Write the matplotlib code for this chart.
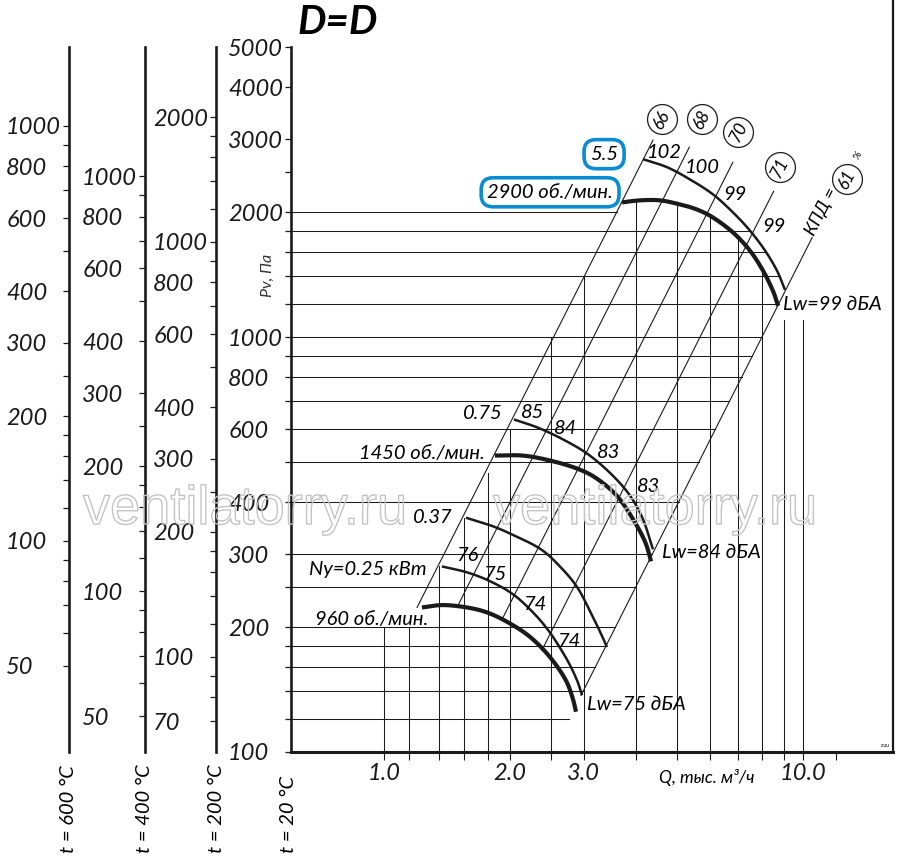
import numpy as np
import matplotlib
matplotlib.use('Agg')
import matplotlib.pyplot as plt
from matplotlib.ticker import FixedLocator, NullLocator
import matplotlib.patheffects as pe

plt.rcParams['font.family'] = ['Lato', 'DejaVu Sans']
plt.rcParams['font.style'] = 'italic'

# fan curves, Q in thousand m3/h, P in Pa
q_2900 = [3.70, 4.08, 4.56, 5.09, 5.58, 6.10, 6.81, 7.47, 8.03, 8.48, 8.72]
p_2900 = [2111, 2135, 2135, 2087, 2030, 1941, 1786, 1616, 1445, 1292, 1189]
q_55 = [4.15, 4.74, 5.37, 6.10, 6.81, 7.47, 8.12, 8.67, 9.06]
p_55 = [2683, 2566, 2399, 2207, 1996, 1806, 1616, 1445, 1299]
q_1450 = [1.84, 2.146, 2.49, 2.89, 3.22, 3.60, 3.93, 4.20, 4.34]
p_1450 = [518, 518, 504, 482, 456, 414, 364, 321, 288]
q_075 = [2.043, 2.357, 2.734, 3.10, 3.52, 3.87, 4.15, 4.385]
p_075 = [633, 602, 560, 518, 463, 414, 364, 308]
q_960 = [1.232, 1.383, 1.578, 1.761, 1.966, 2.194, 2.396, 2.587, 2.734, 2.826, 2.872]
p_960 = [223, 226, 223, 217, 206, 192, 177, 161, 147, 134, 125]
q_025 = [1.375, 1.578, 1.791, 2.032, 2.268, 2.49, 2.734, 2.888, 2.969]
p_025 = [280, 271, 258, 240, 217, 194, 167, 149, 137]
q_037 = [1.569, 1.791, 2.0, 2.357, 2.63, 2.888, 3.10, 3.278, 3.406]
p_037 = [367, 352, 336, 309, 280, 250, 219, 195, 179]

# efficiency lines P = k*Q^2
eff_vals = ['66', '68', '70', '71', '61']
eff_k = [155, 100, 57, 31, 15.7]
eff_p_low = [223, 227, 208, 176, 137]
eff_p_high = [2983, 2868, 2637, 2245, 1737]
eff_lab_q = [4.61, 5.74, 7.0, 8.81, 12.74]
eff_lab_p = [3353, 3353, 3119, 2566, 2399]

# sound power values along the curves
lw_text = ['102', '100', '99', '99', '85', '84', '83', '83', '76', '75', '74', '74']
lw_q = [4.68, 5.74, 6.88, 8.53, 2.268, 2.719, 3.444, 4.29, 1.578, 1.84, 2.293, 2.764]
lw_p = [2790, 2566, 2207, 1846, 658, 602, 527, 436, 297, 268, 227, 185]

# curve names (right aligned) and end labels (left aligned)
name_text = ['2900 об./мин.', '5.5', '1450 об./мин.', '0.75', '0.37', 'Ny=0.25 кВт', '960 об./мин.']
name_q = [3.52, 3.62, 1.742, 1.923, 1.461, 1.266, 1.274]
name_p = [2233, 2759, 524, 655, 367, 276, 209]
end_text = ['Lw=99 дБА', 'Lw=84 дБА', 'Lw=75 дБА']
end_q = [8.95, 4.61, 3.05]
end_p = [1196, 302, 130]

# grid
grid_q = [1.0, 1.15, 1.35, 1.55, 1.77, 2.0, 2.5, 3.0, 4.0, 5.0, 6.0, 7.0, 8.0, 9.0, 10.0]
grid_q_top = [200, 200, 280, 366, 470, 600, 1000, 1400, None, None, None, None, None, 1100, 1100]
grid_p = [120, 140, 160, 180, 200, 250, 300, 400, 500, 600, 700, 800, 900, 1000,
          1200, 1400, 1600, 1800, 2000]
x_ticks = grid_q + [12.0]
x_labels = {1.0: '1.0', 2.0: '2.0', 3.0: '3.0', 10.0: '10.0'}

# pressure scales
main_ticks = [100, 120, 140, 160, 180, 200, 250, 300, 400, 500, 600, 700, 800, 900, 1000,
              1200, 1400, 1600, 1800, 2000, 2500, 3000, 4000, 5000]
main_labels = [100, 200, 300, 400, 600, 800, 1000, 2000, 3000, 4000, 5000]
temp_names = ['t = 600 °C', 't = 400 °C', 't = 200 °C']
temp_factor = [0.31, 0.41, 0.59]
temp_ticks = [[50, 60, 70, 80, 90, 100, 120, 140, 160, 180, 200, 250, 300, 400, 500, 600, 700, 800, 900, 1000],
              [50, 60, 70, 80, 90, 100, 120, 140, 160, 180, 200, 250, 300, 400, 500, 600, 700, 800, 900, 1000],
              [70, 80, 90, 100, 120, 140, 160, 180, 200, 250, 300, 400, 500, 600, 700, 800, 900, 1000,
               1200, 1400, 1600, 1800, 2000]]
temp_labels = [[50, 100, 200, 300, 400, 600, 800, 1000],
               [50, 100, 200, 300, 400, 600, 800, 1000],
               [70, 100, 200, 300, 400, 600, 800, 1000, 2000]]
temp_x = [69, 145, 216]

W, H = 900, 860
K = '#1a1a1a'
BLUE = '#0a8bd2'


def smooth(q, p, n=16):
    pts = np.column_stack([np.log10(q), np.log10(p)])
    ext = np.vstack([2 * pts[0] - pts[1], pts, 2 * pts[-1] - pts[-2]])
    t = np.linspace(0, 1, n, endpoint=False)[:, None]
    out = []
    for i in range(1, len(ext) - 2):
        p0, p1, p2, p3 = ext[i - 1], ext[i], ext[i + 1], ext[i + 2]
        out.append(0.5 * (2 * p1 + (-p0 + p2) * t + (2 * p0 - 5 * p1 + 4 * p2 - p3) * t ** 2
                          + (-p0 + 3 * p1 - 3 * p2 + p3) * t ** 3))
    out.append(pts[-1:])
    out = np.vstack(out)
    return 10 ** out[:, 0], 10 ** out[:, 1]


fig = plt.figure(figsize=(9, 8.6), dpi=100)
bottom = 1 - 752 / H
height = 752 / H
ax = fig.add_axes([291 / W, bottom, (893 - 291) / W, height])
ax.set_xscale('log')
ax.set_yscale('log')
ax.set_xlim(0.6, 16.4)
ax.set_ylim(100, 6490)
ax.patch.set_visible(False)

s2900 = smooth(q_2900, p_2900)
s55 = smooth(q_55, p_55)

# grid, clipped to the working area
for q, top in zip(grid_q, grid_q_top):
    if top is None:
        top = 10 ** np.interp(np.log10(q), np.log10(s2900[0]), np.log10(s2900[1]))
    ax.plot([q, q], [100, top], color=K, lw=0.75, zorder=1)
for p in grid_p:
    if p > max(p_2900) * 0.9:
        qe = np.sqrt(p / eff_k[0])
    elif p > min(p_55):
        qe = 10 ** np.interp(np.log10(p), np.log10(s55[1][::-1]), np.log10(s55[0][::-1]))
    else:
        qe = np.sqrt(p / eff_k[-1])
    ax.plot([0.6, qe], [p, p], color=K, lw=0.75, zorder=1)

# efficiency lines
for k, pl, ph in zip(eff_k, eff_p_low, eff_p_high):
    pp = np.array([pl, ph])
    ax.plot(np.sqrt(pp / k), pp, color=K, lw=0.8, zorder=2)

# curves
for q, p, lw in [(q_2900, p_2900, 3.0), (q_1450, p_1450, 3.0), (q_960, p_960, 3.0),
                 (q_55, p_55, 1.8), (q_075, p_075, 1.8), (q_025, p_025, 1.8), (q_037, p_037, 1.8)]:
    sq, sp = smooth(q, p)
    ax.plot(sq, sp, color=K, lw=lw, solid_capstyle='butt', zorder=3)

# efficiency circles
for v, q, p in zip(eff_vals, eff_lab_q, eff_lab_p):
    ax.plot([q], [p], 'o', ms=21.5, mfc='white', mec=K, mew=0.9, zorder=4, clip_on=False)
    ax.text(q, p, v, fontsize=12.5, rotation=63, ha='center', va='center',
            rotation_mode='anchor', zorder=5, clip_on=False)
ax.text(11.1, 2008, 'КПД =', fontsize=13, rotation=63, ha='center', va='center',
        rotation_mode='anchor', zorder=5)
ax.text(13.53, 2742, '%', fontsize=7.5, rotation=63, ha='center', va='center', zorder=5)

for t, q, p in zip(lw_text, lw_q, lw_p):
    ax.text(q, p, t, fontsize=14.5, ha='center', va='center', zorder=5)
for t, q, p in zip(name_text, name_q, name_p):
    box = None
    if t in ('2900 об./мин.', '5.5'):
        box = dict(boxstyle='round,pad=0.3,rounding_size=0.6', fc='white', ec=BLUE, lw=2.6)
    ax.text(q, p, t, fontsize=14.5, ha='right', va='center', zorder=5, bbox=box)
for t, q, p in zip(end_text, end_q, end_p):
    ax.text(q, p, t, fontsize=14.5, ha='left', va='center', zorder=5)

# axes styling
ax.spines['top'].set_visible(False)
ax.spines['left'].set_bounds(100, 5000)
ax.spines['left'].set_linewidth(1.9)
ax.spines['bottom'].set_linewidth(2.2)
ax.spines['right'].set_linewidth(1.6)
for s in ['left', 'bottom', 'right']:
    ax.spines[s].set_color(K)

ax.xaxis.set_major_locator(FixedLocator(x_ticks))
ax.xaxis.set_minor_locator(NullLocator())
ax.set_xticklabels([x_labels.get(q, '') for q in x_ticks])
ax.yaxis.set_major_locator(FixedLocator(main_ticks))
ax.yaxis.set_minor_locator(NullLocator())
ax.set_yticklabels([str(v) if v in main_labels else '' for v in main_ticks])
ax.tick_params(axis='x', direction='out', length=5.8, width=0.8, pad=2, labelsize=17, colors=K)
ax.tick_params(axis='y', direction='out', length=4.3, width=0.9, pad=41, labelsize=17, colors=K)
for lab in ax.get_yticklabels():
    lab.set_horizontalalignment('left')

ax.text(5.9, 87, 'Q, тыс. м³/ч', fontsize=12.5, ha='center', va='center', clip_on=False)
ax.text(15.7, 103.5, 'z.uu', fontsize=3.5, ha='center', va='center', style='normal')

# temperature scales
for name, f, ticks, labs, xl in zip(temp_names, temp_factor, temp_ticks, temp_labels, temp_x):
    sax = fig.add_axes([xl / W, bottom, 0.0005, height])
    sax.set_yscale('log')
    sax.set_ylim(100 * f, 6490 * f)
    sax.patch.set_visible(False)
    for s in ['top', 'right', 'bottom']:
        sax.spines[s].set_visible(False)
    sax.spines['left'].set_bounds(100 * f, 5000 * f)
    sax.spines['left'].set_linewidth(1.9)
    sax.spines['left'].set_color(K)
    sax.set_xticks([])
    sax.yaxis.set_major_locator(FixedLocator(ticks))
    sax.yaxis.set_minor_locator(NullLocator())
    sax.set_yticklabels([str(v) if v in labs else '' for v in ticks])
    sax.tick_params(axis='y', direction='out', length=4.3, width=0.9, pad=41, labelsize=17, colors=K)
    for lab in sax.get_yticklabels():
        lab.set_horizontalalignment('left')
    fig.text(xl / W, 1 - 853 / H, name, fontsize=14.5, rotation=90, ha='center', va='bottom')

fig.text(288 / W, 1 - 853 / H, 't = 20 °C', fontsize=14.5, rotation=90, ha='center', va='bottom')
fig.text(268 / W, 1 - 275 / H, 'Pv, Па', fontsize=11.5, rotation=90, ha='center', va='center',
         color='#333333')
fig.text(297 / W, 1 - 22 / H, 'D=D', fontsize=29, fontweight='bold', ha='left', va='center')

# watermark
for xc in [245, 655]:
    fig.text(xc / W, 1 - 510 / H, 'ventilatorry.ru', fontsize=39, style='normal',
             family='Liberation Sans', ha='center', va='center', color='none', zorder=10,
             path_effects=[pe.withStroke(linewidth=1.0, foreground='#c4c4c4')])

fig.savefig('out.png', dpi=100)
